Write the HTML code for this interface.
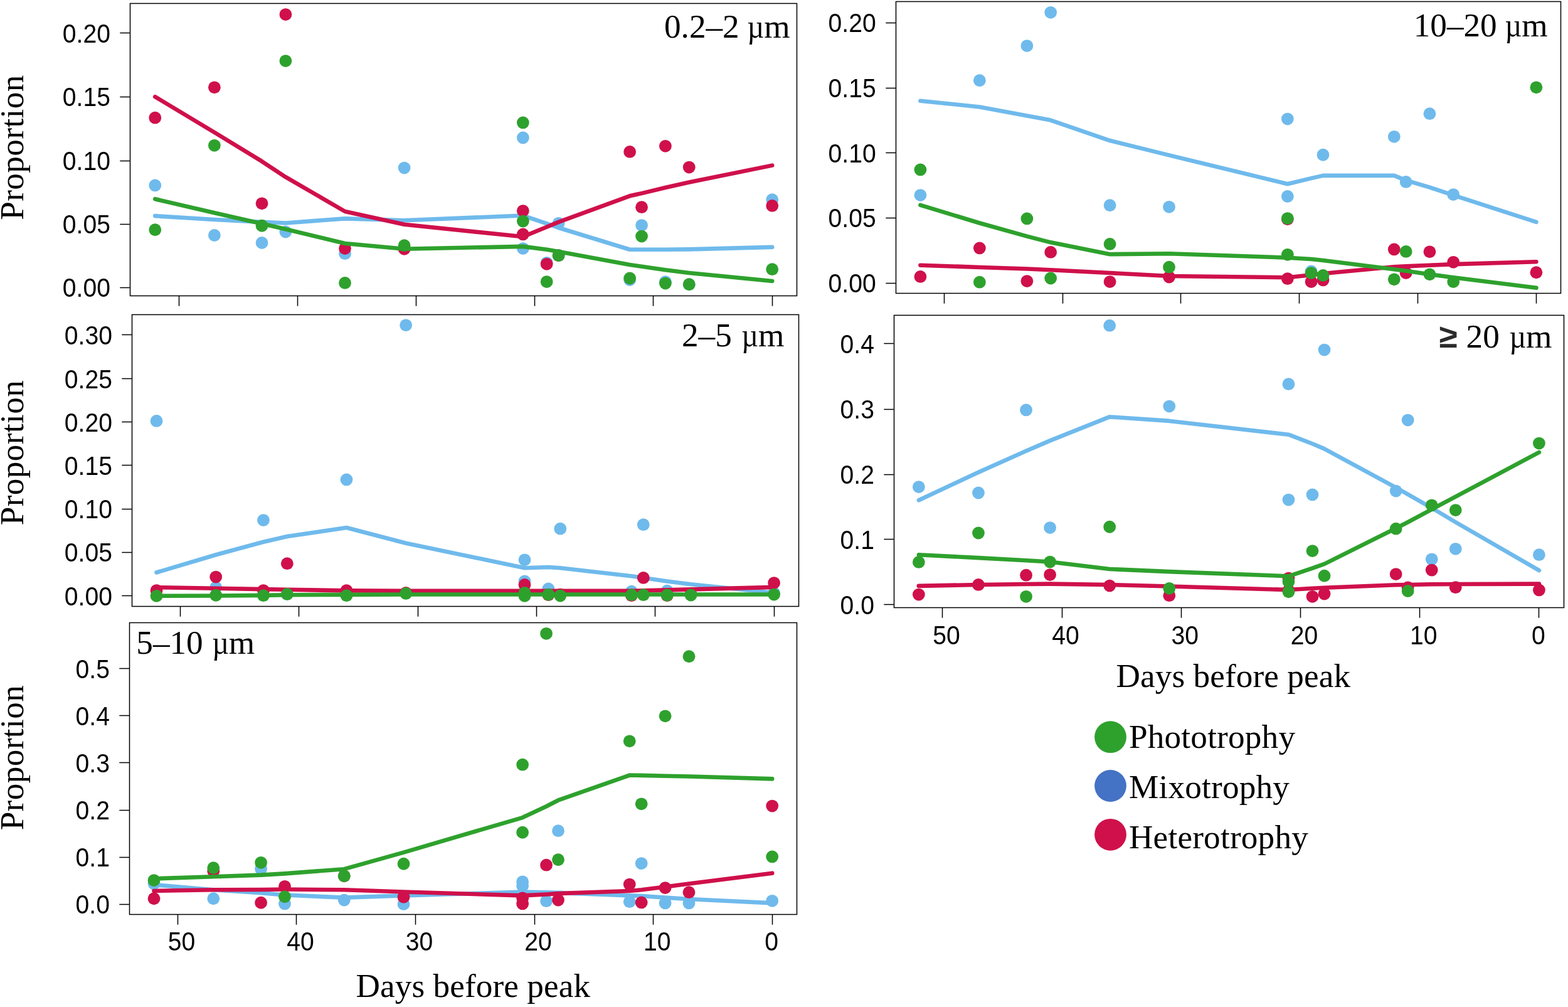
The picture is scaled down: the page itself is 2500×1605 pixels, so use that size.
<!DOCTYPE html>
<html lang="en"><head><meta charset="utf-8"><title>Proportion of trophic modes by size fraction</title>
<style>
html,body{margin:0;padding:0;background:#fff;}
body{width:2500px;height:1605px;overflow:hidden;}
svg{display:block;}
.sans{font-family:"Liberation Sans",sans-serif;font-size:41.6px;fill:#000;}
.serif{font-family:"Liberation Serif",serif;font-size:53.2px;fill:#000;}
.ax{stroke:#000;stroke-width:1.5;fill:none;stroke-linecap:butt;}
.ln{fill:none;stroke-width:6.6;stroke-linecap:round;stroke-linejoin:round;}
.b{stroke:#6FBAEC;} .r{stroke:#CF104B;} .g{stroke:#2EA12D;}
.pb{fill:#6FBAEC;} .pr{fill:#CF104B;} .pg{fill:#2EA12D;}
</style></head><body>
<svg width="2500" height="1605" viewBox="0 0 2500 1605">
<rect x="0" y="0" width="2500" height="1605" fill="#fff"/>
<g id="p1">
<g class="pb">
<circle cx="247.26" cy="295.45" r="9.9"/>
<circle cx="341.87" cy="375" r="9.9"/>
<circle cx="417.55" cy="387.01" r="9.9"/>
<circle cx="455.4" cy="369.48" r="9.9"/>
<circle cx="550.01" cy="404.22" r="9.9"/>
<circle cx="644.62" cy="267.53" r="9.9"/>
<circle cx="833.84" cy="219.48" r="9.9"/>
<circle cx="833.84" cy="396.1" r="9.9"/>
<circle cx="871.68" cy="418.83" r="9.9"/>
<circle cx="890.6" cy="355.84" r="9.9"/>
<circle cx="1004.14" cy="446.1" r="9.9"/>
<circle cx="1023.06" cy="359.09" r="9.9"/>
<circle cx="1060.9" cy="449.03" r="9.9"/>
<circle cx="1098.75" cy="453.25" r="9.9"/>
<circle cx="1231.2" cy="318.18" r="9.9"/>
</g>
<polyline class="ln b" points="247.26,344.16 341.87,350 417.55,353.9 455.4,355.52 550.01,348.38 644.62,351.3 833.84,343.51 871.68,356.49 890.6,362.99 1004.14,397.73 1023.06,397.73 1060.9,397.73 1098.75,397.4 1231.2,393.83"/>
<g class="pr">
<circle cx="247.26" cy="187.66" r="9.9"/>
<circle cx="341.87" cy="139.29" r="9.9"/>
<circle cx="417.55" cy="324.35" r="9.9"/>
<circle cx="455.4" cy="23.05" r="9.9"/>
<circle cx="550.01" cy="396.1" r="9.9"/>
<circle cx="644.62" cy="396.75" r="9.9"/>
<circle cx="833.84" cy="336.04" r="9.9"/>
<circle cx="833.84" cy="373.38" r="9.9"/>
<circle cx="871.68" cy="420.78" r="9.9"/>
<circle cx="890.6" cy="407.14" r="9.9"/>
<circle cx="1004.14" cy="241.88" r="9.9"/>
<circle cx="1023.06" cy="330.19" r="9.9"/>
<circle cx="1060.9" cy="232.79" r="9.9"/>
<circle cx="1098.75" cy="266.56" r="9.9"/>
<circle cx="1231.2" cy="327.92" r="9.9"/>
</g>
<polyline class="ln r" points="247.26,154.22 341.87,211.04 417.55,257.14 455.4,282.14 550.01,337.01 644.62,357.79 833.84,377.27 871.68,361.69 890.6,353.9 1004.14,312.34 1023.06,308.12 1060.9,299.03 1098.75,290.58 1231.2,263.64"/>
<g class="pg">
<circle cx="247.26" cy="366.23" r="9.9"/>
<circle cx="341.87" cy="231.82" r="9.9"/>
<circle cx="417.55" cy="359.74" r="9.9"/>
<circle cx="455.4" cy="97.08" r="9.9"/>
<circle cx="550.01" cy="450.97" r="9.9"/>
<circle cx="644.62" cy="391.23" r="9.9"/>
<circle cx="833.84" cy="195.45" r="9.9"/>
<circle cx="833.84" cy="352.6" r="9.9"/>
<circle cx="871.68" cy="449.03" r="9.9"/>
<circle cx="890.6" cy="407.14" r="9.9"/>
<circle cx="1004.14" cy="443.51" r="9.9"/>
<circle cx="1023.06" cy="376.62" r="9.9"/>
<circle cx="1060.9" cy="451.62" r="9.9"/>
<circle cx="1098.75" cy="453.25" r="9.9"/>
<circle cx="1231.2" cy="429.22" r="9.9"/>
</g>
<polyline class="ln g" points="247.26,317.21 341.87,339.29 417.55,356.49 455.4,365.26 550.01,387.99 644.62,396.75 833.84,392.86 871.68,397.73 890.6,400.97 1004.14,422.08 1023.06,424.68 1060.9,430.19 1098.75,435.06 1231.2,448.05"/>
<rect class="ax" x="207.5" y="5.5" width="1063" height="466"/>
<path class="ax" d="M285.5 471.5V487.7M474.5 471.5V487.7M663.5 471.5V487.7M852.5 471.5V487.7M1041.5 471.5V487.7M1231.5 471.5V487.7M207.5 52.5H191.3M207.5 154.5H191.3M207.5 256.5H191.3M207.5 357.5H191.3M207.5 458.5H191.3"/>
<text class="sans" text-anchor="end" transform="translate(175.9 67.7) scale(0.94 1)">0.20</text>
<text class="sans" text-anchor="end" transform="translate(175.9 169.3) scale(0.94 1)">0.15</text>
<text class="sans" text-anchor="end" transform="translate(175.9 271) scale(0.94 1)">0.10</text>
<text class="sans" text-anchor="end" transform="translate(175.9 371.9) scale(0.94 1)">0.05</text>
<text class="sans" text-anchor="end" transform="translate(175.9 472.9) scale(0.94 1)">0.00</text>
<text class="serif" text-anchor="middle" style="letter-spacing:0.4px" transform="translate(37 235) rotate(-90)">Proportion</text>
<text class="serif ttl" x="1059" y="59.7">0.2–2 <tspan dx="-0.51" textLength="26.67" lengthAdjust="spacingAndGlyphs">µ</tspan>m</text>
</g>
<g id="p2">
<g class="pb">
<circle cx="249.53" cy="670.91" r="9.9"/>
<circle cx="344.2" cy="936.17" r="9.9"/>
<circle cx="419.94" cy="829.03" r="9.9"/>
<circle cx="457.81" cy="946.88" r="9.9"/>
<circle cx="552.48" cy="764.42" r="9.9"/>
<circle cx="647.15" cy="518.31" r="9.9"/>
<circle cx="836.49" cy="892.34" r="9.9"/>
<circle cx="836.49" cy="926.43" r="9.9"/>
<circle cx="874.35" cy="938.44" r="9.9"/>
<circle cx="893.29" cy="842.66" r="9.9"/>
<circle cx="1006.89" cy="942.66" r="9.9"/>
<circle cx="1025.83" cy="836.17" r="9.9"/>
<circle cx="1063.69" cy="941.69" r="9.9"/>
<circle cx="1101.56" cy="947.53" r="9.9"/>
<circle cx="1234.1" cy="944.94" r="9.9"/>
</g>
<polyline class="ln b" points="249.53,912.47 344.2,884.22 419.94,863.77 457.81,855 552.48,841.04 647.15,865.71 836.49,905.32 874.35,904.03 893.29,905.32 1006.89,918.31 1025.83,920.91 1063.69,926.43 1101.56,931.3 1234.1,944.94"/>
<g class="pr">
<circle cx="249.53" cy="941.04" r="9.9"/>
<circle cx="344.2" cy="919.61" r="9.9"/>
<circle cx="419.94" cy="941.04" r="9.9"/>
<circle cx="457.81" cy="898.18" r="9.9"/>
<circle cx="552.48" cy="941.04" r="9.9"/>
<circle cx="647.15" cy="944.94" r="9.9"/>
<circle cx="836.49" cy="931.95" r="9.9"/>
<circle cx="836.49" cy="944.29" r="9.9"/>
<circle cx="874.35" cy="948.18" r="9.9"/>
<circle cx="893.29" cy="947.53" r="9.9"/>
<circle cx="1006.89" cy="949.16" r="9.9"/>
<circle cx="1025.83" cy="920.91" r="9.9"/>
<circle cx="1063.69" cy="949.16" r="9.9"/>
<circle cx="1101.56" cy="947.53" r="9.9"/>
<circle cx="1234.1" cy="929.03" r="9.9"/>
</g>
<polyline class="ln r" points="249.53,936.17 344.2,937.79 419.94,939.09 457.81,939.74 552.48,941.36 647.15,941.69 836.49,941.69 874.35,941.69 893.29,941.69 1006.89,941.69 1025.83,941.36 1063.69,940.39 1101.56,939.42 1234.1,935.84"/>
<g class="pg">
<circle cx="249.53" cy="949.81" r="9.9"/>
<circle cx="344.2" cy="948.83" r="9.9"/>
<circle cx="419.94" cy="949.16" r="9.9"/>
<circle cx="457.81" cy="946.88" r="9.9"/>
<circle cx="552.48" cy="949.16" r="9.9"/>
<circle cx="647.15" cy="945.91" r="9.9"/>
<circle cx="836.49" cy="944.94" r="9.9"/>
<circle cx="836.49" cy="949.81" r="9.9"/>
<circle cx="874.35" cy="947.53" r="9.9"/>
<circle cx="893.29" cy="949.48" r="9.9"/>
<circle cx="1006.89" cy="948.18" r="9.9"/>
<circle cx="1025.83" cy="948.18" r="9.9"/>
<circle cx="1063.69" cy="948.51" r="9.9"/>
<circle cx="1101.56" cy="948.51" r="9.9"/>
<circle cx="1234.1" cy="947.53" r="9.9"/>
</g>
<polyline class="ln g" points="249.53,949.81 344.2,949.48 419.94,948.83 457.81,948.18 552.48,947.86 647.15,947.53 836.49,947.53 874.35,947.53 893.29,947.53 1006.89,947.53 1025.83,947.53 1063.69,947.53 1101.56,947.53 1234.1,947.53"/>
<rect class="ax" x="210.5" y="501.5" width="1063" height="465"/>
<path class="ax" d="M287.5 966.5V982.7M476.5 966.5V982.7M666.5 966.5V982.7M855.5 966.5V982.7M1044.5 966.5V982.7M1234.5 966.5V982.7M210.5 533.5H194.3M210.5 603.5H194.3M210.5 672.5H194.3M210.5 741.5H194.3M210.5 811.5H194.3M210.5 880.5H194.3M210.5 949.5H194.3"/>
<text class="sans" text-anchor="end" transform="translate(178.9 548.7) scale(0.94 1)">0.30</text>
<text class="sans" text-anchor="end" transform="translate(178.9 618.5) scale(0.94 1)">0.25</text>
<text class="sans" text-anchor="end" transform="translate(178.9 687.7) scale(0.94 1)">0.20</text>
<text class="sans" text-anchor="end" transform="translate(178.9 756.5) scale(0.94 1)">0.15</text>
<text class="sans" text-anchor="end" transform="translate(178.9 826.3) scale(0.94 1)">0.10</text>
<text class="sans" text-anchor="end" transform="translate(178.9 895.4) scale(0.94 1)">0.05</text>
<text class="sans" text-anchor="end" transform="translate(178.9 964.6) scale(0.94 1)">0.00</text>
<text class="serif" text-anchor="middle" style="letter-spacing:0.4px" transform="translate(37 721.5) rotate(-90)">Proportion</text>
<text class="serif ttl" x="1087" y="552.1">2–5 <tspan dx="2.26" textLength="26.67" lengthAdjust="spacingAndGlyphs">µ</tspan>m</text>
</g>
<g id="p3">
<g class="pb">
<circle cx="245.49" cy="1408.57" r="9.9"/>
<circle cx="340.27" cy="1432.27" r="9.9"/>
<circle cx="416.09" cy="1384.87" r="9.9"/>
<circle cx="454" cy="1440.39" r="9.9"/>
<circle cx="548.78" cy="1434.55" r="9.9"/>
<circle cx="643.56" cy="1441.04" r="9.9"/>
<circle cx="833.12" cy="1405.32" r="9.9"/>
<circle cx="833.12" cy="1411.82" r="9.9"/>
<circle cx="871.04" cy="1436.17" r="9.9"/>
<circle cx="889.99" cy="1324.16" r="9.9"/>
<circle cx="1003.73" cy="1437.14" r="9.9"/>
<circle cx="1022.68" cy="1376.1" r="9.9"/>
<circle cx="1060.6" cy="1439.42" r="9.9"/>
<circle cx="1098.51" cy="1439.42" r="9.9"/>
<circle cx="1231.2" cy="1435.84" r="9.9"/>
</g>
<polyline class="ln b" points="245.49,1410.19 340.27,1418.31 416.09,1423.18 454,1426.43 548.78,1430.65 643.56,1427.4 833.12,1421.56 871.04,1422.21 889.99,1422.86 1003.73,1427.4 1022.68,1428.05 1060.6,1430.65 1098.51,1432.92 1231.2,1439.42"/>
<g class="pr">
<circle cx="245.49" cy="1432.27" r="9.9"/>
<circle cx="340.27" cy="1388.44" r="9.9"/>
<circle cx="416.09" cy="1438.77" r="9.9"/>
<circle cx="454" cy="1412.79" r="9.9"/>
<circle cx="548.78" cy="1396.23" r="9.9"/>
<circle cx="643.56" cy="1429.68" r="9.9"/>
<circle cx="833.12" cy="1431.3" r="9.9"/>
<circle cx="833.12" cy="1440.39" r="9.9"/>
<circle cx="871.04" cy="1378.7" r="9.9"/>
<circle cx="889.99" cy="1434.55" r="9.9"/>
<circle cx="1003.73" cy="1409.55" r="9.9"/>
<circle cx="1022.68" cy="1438.44" r="9.9"/>
<circle cx="1060.6" cy="1415.06" r="9.9"/>
<circle cx="1098.51" cy="1422.21" r="9.9"/>
<circle cx="1231.2" cy="1284.55" r="9.9"/>
</g>
<polyline class="ln r" points="245.49,1419.94 340.27,1418.31 416.09,1417.99 454,1417.5 548.78,1418.31 643.56,1421.56 833.12,1427.4 871.04,1425.45 889.99,1424.16 1003.73,1419.94 1022.68,1418.31 1060.6,1413.44 1098.51,1408.57 1231.2,1391.69"/>
<g class="pg">
<circle cx="245.49" cy="1403.05" r="9.9"/>
<circle cx="340.27" cy="1383.25" r="9.9"/>
<circle cx="416.09" cy="1374.81" r="9.9"/>
<circle cx="454" cy="1429.35" r="9.9"/>
<circle cx="548.78" cy="1396.23" r="9.9"/>
<circle cx="643.56" cy="1376.75" r="9.9"/>
<circle cx="833.12" cy="1218.64" r="9.9"/>
<circle cx="833.12" cy="1326.75" r="9.9"/>
<circle cx="871.04" cy="1009.87" r="9.9"/>
<circle cx="889.99" cy="1370.26" r="9.9"/>
<circle cx="1003.73" cy="1181.3" r="9.9"/>
<circle cx="1022.68" cy="1281.3" r="9.9"/>
<circle cx="1060.6" cy="1141.36" r="9.9"/>
<circle cx="1098.51" cy="1046.23" r="9.9"/>
<circle cx="1231.2" cy="1365.39" r="9.9"/>
</g>
<polyline class="ln g" points="245.49,1400.45 340.27,1397.21 416.09,1394.61 454,1392.34 548.78,1385.19 643.56,1358.57 833.12,1303.05 871.04,1285.19 889.99,1275.45 1003.73,1235.52 1022.68,1235.84 1060.6,1236.82 1098.51,1237.47 1231.2,1241.36"/>
<rect class="ax" x="206.5" y="992.5" width="1064" height="465"/>
<path class="ax" d="M283.5 1457.5V1473.7M472.5 1457.5V1473.7M662.5 1457.5V1473.7M852.5 1457.5V1473.7M1041.5 1457.5V1473.7M1231.5 1457.5V1473.7M206.5 1065.5H190.3M206.5 1140.5H190.3M206.5 1215.5H190.3M206.5 1291.5H190.3M206.5 1366.5H190.3M206.5 1441.5H190.3"/>
<text class="sans" text-anchor="end" transform="translate(174.9 1080.5) scale(0.94 1)">0.5</text>
<text class="sans" text-anchor="end" transform="translate(174.9 1155.5) scale(0.94 1)">0.4</text>
<text class="sans" text-anchor="end" transform="translate(174.9 1230.5) scale(0.94 1)">0.3</text>
<text class="sans" text-anchor="end" transform="translate(174.9 1305.8) scale(0.94 1)">0.2</text>
<text class="sans" text-anchor="end" transform="translate(174.9 1381.2) scale(0.94 1)">0.1</text>
<text class="sans" text-anchor="end" transform="translate(174.9 1456.2) scale(0.94 1)">0.0</text>
<text class="sans" text-anchor="middle" transform="translate(289.4 1514.6) scale(0.94 1)">50</text>
<text class="sans" text-anchor="middle" transform="translate(478.96 1514.6) scale(0.94 1)">40</text>
<text class="sans" text-anchor="middle" transform="translate(668.52 1514.6) scale(0.94 1)">30</text>
<text class="sans" text-anchor="middle" transform="translate(858.08 1514.6) scale(0.94 1)">20</text>
<text class="sans" text-anchor="middle" transform="translate(1047.64 1514.6) scale(0.94 1)">10</text>
<text class="sans" text-anchor="middle" transform="translate(1230.2 1514.6) scale(0.94 1)">0</text>
<text class="serif" text-anchor="middle" style="letter-spacing:0.09px" x="754.3" y="1588.5">Days before peak</text>
<text class="serif" text-anchor="middle" style="letter-spacing:0.4px" transform="translate(37 1207.6) rotate(-90)">Proportion</text>
<text class="serif ttl" x="217.3" y="1042">5–10 <tspan dx="1.16" textLength="26.67" lengthAdjust="spacingAndGlyphs">µ</tspan>m</text>
</g>
<g id="p4">
<g class="pb">
<circle cx="1467.43" cy="311.04" r="9.9"/>
<circle cx="1561.85" cy="128.25" r="9.9"/>
<circle cx="1637.39" cy="73.05" r="9.9"/>
<circle cx="1675.16" cy="19.81" r="9.9"/>
<circle cx="1769.58" cy="327.27" r="9.9"/>
<circle cx="1864" cy="329.87" r="9.9"/>
<circle cx="2052.84" cy="189.61" r="9.9"/>
<circle cx="2052.84" cy="312.99" r="9.9"/>
<circle cx="2090.6" cy="432.47" r="9.9"/>
<circle cx="2109.49" cy="246.75" r="9.9"/>
<circle cx="2222.79" cy="217.86" r="9.9"/>
<circle cx="2241.68" cy="289.94" r="9.9"/>
<circle cx="2279.44" cy="181.17" r="9.9"/>
<circle cx="2317.21" cy="310.06" r="9.9"/>
</g>
<polyline class="ln b" points="1467.43,160.71 1561.85,170.45 1637.39,184.42 1675.16,191.56 1769.58,224.03 1864,247.4 2052.84,293.18 2090.6,284.09 2109.49,279.87 2222.79,279.87 2241.68,287.34 2279.44,298.7 2317.21,311.04 2449.4,353.9"/>
<g class="pr">
<circle cx="1467.43" cy="440.91" r="9.9"/>
<circle cx="1561.85" cy="395.45" r="9.9"/>
<circle cx="1637.39" cy="448.05" r="9.9"/>
<circle cx="1675.16" cy="401.95" r="9.9"/>
<circle cx="1769.58" cy="449.03" r="9.9"/>
<circle cx="1864" cy="441.56" r="9.9"/>
<circle cx="2052.84" cy="349.35" r="9.9"/>
<circle cx="2052.84" cy="444.16" r="9.9"/>
<circle cx="2090.6" cy="449.03" r="9.9"/>
<circle cx="2109.49" cy="446.43" r="9.9"/>
<circle cx="2222.79" cy="397.4" r="9.9"/>
<circle cx="2241.68" cy="435.06" r="9.9"/>
<circle cx="2279.44" cy="401.3" r="9.9"/>
<circle cx="2317.21" cy="417.86" r="9.9"/>
<circle cx="2449.4" cy="434.25" r="9.9"/>
</g>
<polyline class="ln r" points="1467.43,422.73 1561.85,425.97 1637.39,428.57 1675.16,430.19 1769.58,435.06 1864,439.94 2052.84,442.21 2090.6,438.31 2109.49,436.04 2222.79,425.32 2241.68,424.35 2279.44,422.73 2317.21,421.1 2449.4,417.21"/>
<g class="pg">
<circle cx="1467.43" cy="270.45" r="9.9"/>
<circle cx="1561.85" cy="449.68" r="9.9"/>
<circle cx="1637.39" cy="348.38" r="9.9"/>
<circle cx="1675.16" cy="443.51" r="9.9"/>
<circle cx="1769.58" cy="388.96" r="9.9"/>
<circle cx="1864" cy="425.65" r="9.9"/>
<circle cx="2052.84" cy="348.05" r="9.9"/>
<circle cx="2052.84" cy="405.84" r="9.9"/>
<circle cx="2090.6" cy="435.06" r="9.9"/>
<circle cx="2109.49" cy="438.96" r="9.9"/>
<circle cx="2222.79" cy="445.29" r="9.9"/>
<circle cx="2241.68" cy="400.97" r="9.9"/>
<circle cx="2279.44" cy="437.34" r="9.9"/>
<circle cx="2317.21" cy="449.03" r="9.9"/>
<circle cx="2449.4" cy="139.29" r="9.9"/>
</g>
<polyline class="ln g" points="1467.43,326.95 1561.85,355.52 1637.39,376.62 1675.16,386.36 1769.58,405.19 1864,404.22 2052.84,410.71 2090.6,412.99 2109.49,414.94 2222.79,429.22 2241.68,431.82 2279.44,437.34 2317.21,442.21 2449.4,458.77"/>
<rect class="ax" x="1428.5" y="2.5" width="1060" height="465"/>
<path class="ax" d="M1505.5 467.5V483.7M1694.5 467.5V483.7M1882.5 467.5V483.7M2071.5 467.5V483.7M2260.5 467.5V483.7M2449.5 467.5V483.7M1428.5 36.5H1412.3M1428.5 140.5H1412.3M1428.5 243.5H1412.3M1428.5 347.5H1412.3M1428.5 451.5H1412.3"/>
<text class="sans" text-anchor="end" transform="translate(1396.7 51) scale(0.94 1)">0.20</text>
<text class="sans" text-anchor="end" transform="translate(1396.7 154.9) scale(0.94 1)">0.15</text>
<text class="sans" text-anchor="end" transform="translate(1396.7 258.5) scale(0.94 1)">0.10</text>
<text class="sans" text-anchor="end" transform="translate(1396.7 362.4) scale(0.94 1)">0.05</text>
<text class="sans" text-anchor="end" transform="translate(1396.7 465.9) scale(0.94 1)">0.00</text>
<text class="serif ttl" x="2253.7" y="58.4">10–20 <tspan dx="-0.44" textLength="26.67" lengthAdjust="spacingAndGlyphs">µ</tspan>m</text>
</g>
<g id="p5">
<g class="pb">
<circle cx="1464.86" cy="776.1" r="9.9"/>
<circle cx="1559.96" cy="785.52" r="9.9"/>
<circle cx="1636.04" cy="653.38" r="9.9"/>
<circle cx="1674.08" cy="841.04" r="9.9"/>
<circle cx="1769.18" cy="518.96" r="9.9"/>
<circle cx="1864.28" cy="647.53" r="9.9"/>
<circle cx="2054.48" cy="612.14" r="9.9"/>
<circle cx="2054.48" cy="796.56" r="9.9"/>
<circle cx="2092.52" cy="788.44" r="9.9"/>
<circle cx="2111.54" cy="557.6" r="9.9"/>
<circle cx="2225.66" cy="782.6" r="9.9"/>
<circle cx="2244.68" cy="669.61" r="9.9"/>
<circle cx="2282.72" cy="891.36" r="9.9"/>
<circle cx="2320.76" cy="874.81" r="9.9"/>
<circle cx="2453.9" cy="884.22" r="9.9"/>
</g>
<polyline class="ln b" points="1464.86,797.21 1559.96,752.73 1636.04,718.64 1674.08,702.4 1769.18,664.42 1864.28,670.91 2054.48,692.66 2092.52,707.27 2111.54,715.39 2225.66,777.08 2244.68,787.79 2282.72,809.55 2320.76,832.27 2453.9,909.22"/>
<g class="pr">
<circle cx="1464.86" cy="947.53" r="9.9"/>
<circle cx="1559.96" cy="931.95" r="9.9"/>
<circle cx="1636.04" cy="916.69" r="9.9"/>
<circle cx="1674.08" cy="916.04" r="9.9"/>
<circle cx="1769.18" cy="933.57" r="9.9"/>
<circle cx="1864.28" cy="949.16" r="9.9"/>
<circle cx="2054.48" cy="921.56" r="9.9"/>
<circle cx="2054.48" cy="941.04" r="9.9"/>
<circle cx="2092.52" cy="950.78" r="9.9"/>
<circle cx="2111.54" cy="946.56" r="9.9"/>
<circle cx="2225.66" cy="915.06" r="9.9"/>
<circle cx="2244.68" cy="936.49" r="9.9"/>
<circle cx="2282.72" cy="908.57" r="9.9"/>
<circle cx="2320.76" cy="936.17" r="9.9"/>
<circle cx="2453.9" cy="940.39" r="9.9"/>
</g>
<polyline class="ln r" points="1464.86,933.9 1559.96,931.95 1636.04,930.97 1674.08,930.65 1769.18,931.95 1864.28,934.55 2054.48,940.06 2092.52,937.79 2111.54,936.82 2225.66,932.27 2244.68,931.95 2282.72,931.3 2320.76,930.97 2453.9,930.65"/>
<g class="pg">
<circle cx="1464.86" cy="895.91" r="9.9"/>
<circle cx="1559.96" cy="849.48" r="9.9"/>
<circle cx="1636.04" cy="950.78" r="9.9"/>
<circle cx="1674.08" cy="895.58" r="9.9"/>
<circle cx="1769.18" cy="839.74" r="9.9"/>
<circle cx="1864.28" cy="937.79" r="9.9"/>
<circle cx="2054.48" cy="927.08" r="9.9"/>
<circle cx="2054.48" cy="943.31" r="9.9"/>
<circle cx="2092.52" cy="878.05" r="9.9"/>
<circle cx="2111.54" cy="917.66" r="9.9"/>
<circle cx="2225.66" cy="842.66" r="9.9"/>
<circle cx="2244.68" cy="942.01" r="9.9"/>
<circle cx="2282.72" cy="805.32" r="9.9"/>
<circle cx="2320.76" cy="813.12" r="9.9"/>
<circle cx="2453.9" cy="706.62" r="9.9"/>
</g>
<polyline class="ln g" points="1464.86,884.22 1559.96,889.09 1636.04,893.31 1674.08,895.58 1769.18,906.95 1864.28,911.17 2054.48,918.31 2092.52,905.65 2111.54,898.83 2225.66,842.01 2244.68,832.27 2282.72,811.82 2320.76,791.69 2453.9,720.91"/>
<rect class="ax" x="1425.5" y="502.5" width="1068" height="466"/>
<path class="ax" d="M1502.5 968.5V984.7M1693.5 968.5V984.7M1883.5 968.5V984.7M2073.5 968.5V984.7M2263.5 968.5V984.7M2453.5 968.5V984.7M1425.5 547.5H1409.3M1425.5 652.5H1409.3M1425.5 756.5H1409.3M1425.5 859.5H1409.3M1425.5 963.5H1409.3"/>
<text class="sans" text-anchor="end" transform="translate(1393.9 562.7) scale(0.94 1)">0.4</text>
<text class="sans" text-anchor="end" transform="translate(1393.9 666.9) scale(0.94 1)">0.3</text>
<text class="sans" text-anchor="end" transform="translate(1393.9 770.8) scale(0.94 1)">0.2</text>
<text class="sans" text-anchor="end" transform="translate(1393.9 874.7) scale(0.94 1)">0.1</text>
<text class="sans" text-anchor="end" transform="translate(1393.9 978.6) scale(0.94 1)">0.0</text>
<text class="sans" text-anchor="middle" transform="translate(1508.9 1026.6) scale(0.94 1)">50</text>
<text class="sans" text-anchor="middle" transform="translate(1699.1 1026.6) scale(0.94 1)">40</text>
<text class="sans" text-anchor="middle" transform="translate(1889.3 1026.6) scale(0.94 1)">30</text>
<text class="sans" text-anchor="middle" transform="translate(2079.5 1026.6) scale(0.94 1)">20</text>
<text class="sans" text-anchor="middle" transform="translate(2269.7 1026.6) scale(0.94 1)">10</text>
<text class="sans" text-anchor="middle" transform="translate(2452.9 1026.6) scale(0.94 1)">0</text>
<text class="serif" text-anchor="middle" style="letter-spacing:0.09px" x="1966.3" y="1095.4">Days before peak</text>
<text class="serif ttl" x="2294.5" y="554.1"><tspan style="font-family:'Liberation Sans',sans-serif;font-weight:bold;fill:#2b2b2b;font-size:53px">≥</tspan><tspan dx="0.71"> 20 </tspan><tspan dx="2.35" textLength="26.67" lengthAdjust="spacingAndGlyphs">µ</tspan>m</text>
</g>
<g id="legend">
<circle cx="1770.5" cy="1174.7" r="25.4" fill="#2EA12D"/>
<text class="serif" style="letter-spacing:0.2px" x="1800" y="1191.6">Phototrophy</text>
<circle cx="1770.5" cy="1252.5" r="25.4" fill="#4472C4"/>
<text class="serif" style="letter-spacing:0.2px" x="1800" y="1271.5">Mixotrophy</text>
<circle cx="1770.5" cy="1330.3" r="25.4" fill="#CF104B"/>
<text class="serif" style="letter-spacing:0.2px" x="1800" y="1351.8">Heterotrophy</text>
</g>
</svg>
</body></html>
